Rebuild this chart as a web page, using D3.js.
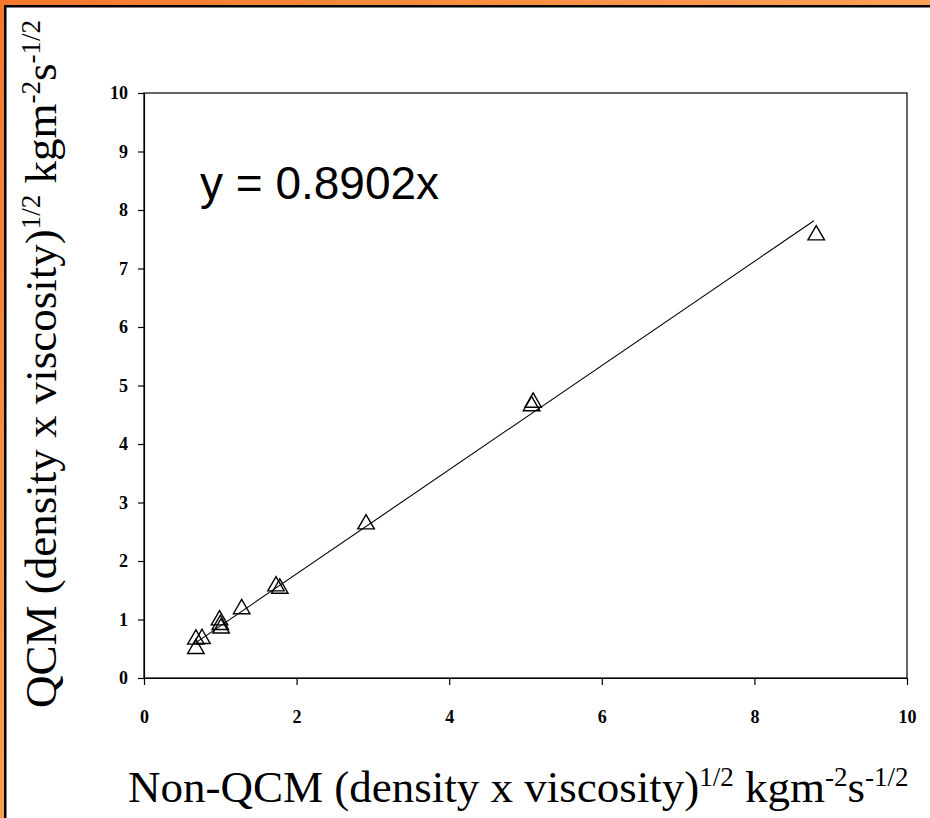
<!DOCTYPE html>
<html>
<head>
<meta charset="utf-8">
<script src="https://cdn.jsdelivr.net/npm/d3@7"></script>
<style>
  body { margin: 0; background: #fff; }
  svg { display: block; }
</style>
</head>
<body>
<div id="chart"></div>
<script>
// measured values (non-QCM vs QCM)
var xVals = [0.68, 0.76, 0.68, 0.99, 1.0, 1.01, 1.28, 1.73, 1.78, 2.91, 5.08, 5.1, 8.81];
var yVals = [0.66, 0.67, 0.5, 0.99, 0.91, 0.85, 1.18, 1.57, 1.53, 2.63, 4.65, 4.71, 7.57];
var slope = 0.8902;
var fitRange = [0.68, 8.78];
var xTicks = [0, 2, 4, 6, 8, 10];
var yTicks = [0, 1, 2, 3, 4, 5, 6, 7, 8, 9, 10];

var W = 930, H = 818;
var plotL = 144, plotR = 907, plotT = 93, plotB = 678;

var svg = d3.select("#chart").append("svg")
    .attr("width", W)
    .attr("height", H);

// orange frame of the slide
var defs = svg.append("defs");
var gTop = defs.append("linearGradient").attr("id", "gTop");
gTop.append("stop").attr("offset", "0%").attr("stop-color", "#f4782c");
gTop.append("stop").attr("offset", "100%").attr("stop-color", "#fba155");
var gLeft = defs.append("linearGradient").attr("id", "gLeft")
    .attr("x1", 0).attr("y1", 0).attr("x2", 0).attr("y2", 1);
gLeft.append("stop").attr("offset", "0%").attr("stop-color", "#f4782c");
gLeft.append("stop").attr("offset", "100%").attr("stop-color", "#f9a050");

svg.append("rect").attr("x", 0).attr("y", 0).attr("width", W).attr("height", 5).attr("fill", "url(#gTop)");
svg.append("rect").attr("x", 0).attr("y", 0).attr("width", 4).attr("height", H).attr("fill", "url(#gLeft)");
svg.append("rect").attr("x", 4).attr("y", 5).attr("width", W - 4).attr("height", 2.5).attr("fill", "#000");
svg.append("rect").attr("x", 4).attr("y", 5).attr("width", 2.5).attr("height", H - 5).attr("fill", "#000");

var x = d3.scaleLinear().domain([0, 10]).range([plotL, plotR]);
var y = d3.scaleLinear().domain([0, 10]).range([plotB, plotT]);

// plot box
svg.append("rect")
    .attr("x", plotL).attr("y", plotT)
    .attr("width", plotR - plotL).attr("height", plotB - plotT)
    .attr("fill", "none").attr("stroke", "#000").attr("stroke-width", 1.2);

var xAxis = svg.append("g")
    .attr("transform", "translate(0," + plotB + ")")
    .call(d3.axisBottom(x).tickValues(xTicks).tickSize(7).tickSizeOuter(0).tickPadding(25));
var yAxis = svg.append("g")
    .attr("transform", "translate(" + plotL + ",0)")
    .call(d3.axisLeft(y).tickValues(yTicks).tickSize(6).tickSizeOuter(0).tickPadding(10));

[xAxis, yAxis].forEach(function (a) {
    a.attr("font-size", null).attr("font-family", null);
    a.select(".domain").attr("stroke", "#000").attr("stroke-width", 1.2);
    a.selectAll(".tick line").attr("stroke", "#000").attr("stroke-width", 1.2);
    a.selectAll(".tick text")
        .attr("fill", "#000")
        .style("font-family", "'Liberation Serif', 'Times New Roman', serif")
        .style("font-size", "18px")
        .style("font-weight", "bold");
});

// regression line
svg.append("line")
    .attr("x1", x(fitRange[0])).attr("y1", y(slope * fitRange[0]))
    .attr("x2", x(fitRange[1])).attr("y2", y(slope * fitRange[1]))
    .attr("stroke", "#000").attr("stroke-width", 1.1);

// triangles
var tri = d3.symbol().type(d3.symbolTriangle).size(118);
svg.selectAll(".pt")
    .data(xVals)
    .enter()
    .append("path")
    .attr("class", "pt")
    .attr("d", tri)
    .attr("transform", function (d, i) {
        return "translate(" + x(d) + "," + y(yVals[i]) + ")";
    })
    .attr("fill", "none")
    .attr("stroke", "#000")
    .attr("stroke-width", 1.4);

// equation
svg.append("text")
    .attr("x", 200).attr("y", 199)
    .style("font-family", "'Liberation Sans', Arial, sans-serif")
    .style("font-size", "46px")
    .text("y = 0.8902x");

// axis titles
function title(t, parts) {
    parts.forEach(function (p) {
        var ts = t.append("tspan").text(p[0]);
        if (p[1] === "sup") ts.attr("baseline-shift", "60%").style("font-size", "27px");
    });
}

var xt = svg.append("text")
    .attr("x", 128).attr("y", 802)
    .style("font-family", "'Liberation Serif', 'Times New Roman', serif")
    .style("font-size", "45px");
title(xt, [["Non-QCM (density x viscosity)"], ["1/2", "sup"], [" kgm"], ["-2", "sup"], ["s"], ["-1/2", "sup"]]);

var yt = svg.append("text")
    .attr("transform", "translate(56,708) rotate(-90)")
    .style("font-family", "'Liberation Serif', 'Times New Roman', serif")
    .style("font-size", "45px");
title(yt, [["QCM (density x viscosity)"], ["1/2", "sup"], [" kgm"], ["-2", "sup"], ["s"], ["-1/2", "sup"]]);
</script>
</body>
</html>
